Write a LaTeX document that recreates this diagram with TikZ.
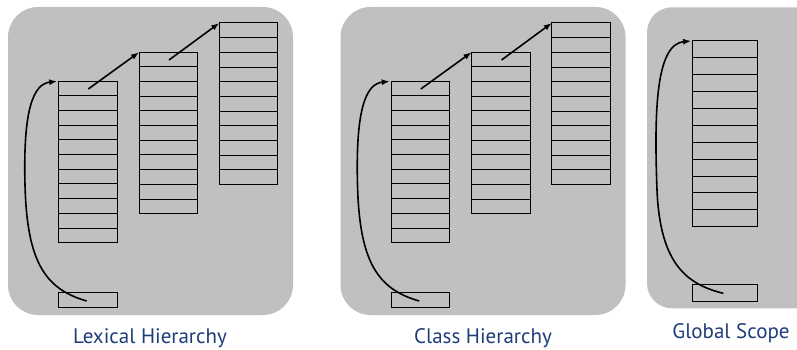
\documentclass[tikz,border=0pt]{standalone}
\usepackage{fontspec}
\setmainfont{PT Sans}
\usetikzlibrary{arrows.meta}
\definecolor{panelgray}{HTML}{C0C0C0}
\definecolor{labelblue}{HTML}{1E3C78}
\tikzset{
  x=1pt, y=-1pt,
  panel/.style={fill=panelgray, draw=none, rounded corners=#1},
  cell/.style={draw=black, line width=1pt},
  link/.style={draw=black, line width=1.6pt, -{Latex[length=8pt,width=6pt]}},
  caption/.style={text=labelblue, font=\fontsize{21}{24}\selectfont, inner sep=0pt},
  frame/.style={draw=none, inner sep=0pt, outer sep=0pt, anchor=north west}
}
% a stack of n cells: name, left, top, width, cell height, number of cells
\newcommand{\cellstack}[6]{%
  \node[frame, minimum width=#4pt, minimum height=#5*#6pt] (#1) at (#2,#3) {};
  \foreach \k in {1,...,#6}{%
    \draw[cell] (#2,{#3+(\k-1)*#5}) rectangle ({#2+#4},{#3+\k*#5});
  }%
}
\begin{document}
\begin{tikzpicture}
\useasboundingbox (0,0) rectangle (797,350);

% ---- lexical hierarchy ----
\fill[panel=30pt] (8,7) rectangle (293,315);
\cellstack{la}{58.7}{81.3}{58.6}{14.67}{11}
\cellstack{lb}{139}{52.3}{58.6}{14.67}{11}
\cellstack{lc}{219.3}{23}{58.4}{14.67}{11}
\cellstack{lbot}{58.7}{292.7}{58.6}{14.6}{1}
\coordinate (la-in) at (88.3,89);
\coordinate (lb-in) at (169,60);
\coordinate (lbot-in) at (86.7,301);
\draw[link] (la-in) -- (lb.north west);
\draw[link] (lb-in) -- (lc.north west);
\draw[link] (lbot-in) .. controls (45,289) and (27,262) .. (25,185)
  .. controls (23,110) and (33,84) .. ([xshift=-1.5pt]la.north west);
\node[caption] (lcap) at (150,338) {Lexical Hierarchy};

% ---- class hierarchy ----
\begin{scope}[xshift=332.5pt]
\fill[panel=30pt] (8,7) rectangle (293,315);
\cellstack{ca}{58.7}{81.3}{58.6}{14.67}{11}
\cellstack{cb}{139}{52.3}{58.6}{14.67}{11}
\cellstack{cc}{219.3}{23}{58.4}{14.67}{11}
\cellstack{cbot}{58.7}{292.7}{58.6}{14.6}{1}
\coordinate (ca-in) at (88.3,89);
\coordinate (cb-in) at (169,60);
\coordinate (cbot-in) at (86.7,301);
\draw[link] (ca-in) -- (cb.north west);
\draw[link] (cb-in) -- (cc.north west);
\draw[link] (cbot-in) .. controls (45,289) and (27,262) .. (25,185)
  .. controls (23,110) and (33,84) .. ([xshift=-1.5pt]ca.north west);
\node[caption] (ccap) at (150.5,338) {Class Hierarchy};
\end{scope}

% ---- global scope ----
\fill[panel=25pt] (647,7.3) rectangle (822,308.3);
\cellstack{ga}{692.7}{41}{65}{16.88}{11}
\cellstack{gbot}{692.7}{284}{65}{17}{1}
\coordinate (gbot-in) at (723.3,293.3);
\draw[link] (gbot-in) .. controls (685,284) and (660,262) .. (657,190)
  .. controls (654,110) and (656,44) .. ([xshift=-1.5pt]ga.north west);
\node[caption] (gcap) at (731,333) {Global Scope};
\end{tikzpicture}
\end{document}
